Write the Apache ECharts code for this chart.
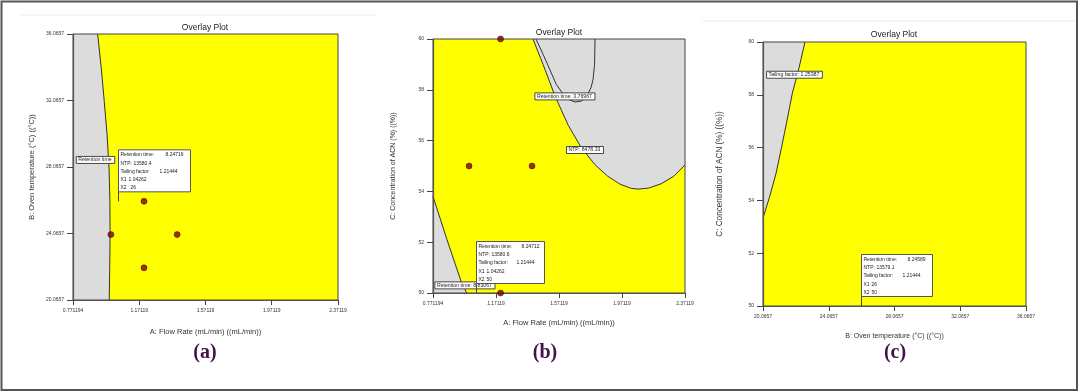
<!DOCTYPE html>
<html><head><meta charset="utf-8">
<script src="https://cdn.jsdelivr.net/npm/echarts@6/dist/echarts.min.js"></script>
<style>html,body{margin:0;padding:0;background:#fff}#c{width:1080px;height:392px}</style>
</head><body><div id="c"></div>
<script>
// ---------- tick values and labels ----------
const flowTicks = [0.771194, 1.171194, 1.571194, 1.971194, 2.371194];
const flowTickLabels = ['0.771194', '1.17119', '1.57119', '1.97119', '2.37119'];
const tempTicks = [20.0657, 24.0657, 28.0657, 32.0657, 36.0657];
const tempTickLabels = ['20.0657', '24.0657', '28.0657', '32.0657', '36.0657'];
const acnTicks = [50, 52, 54, 56, 58, 60];
const acnTickLabels = ['50', '52', '54', '56', '58', '60'];

// ---------- design points ----------
const designA = [[1.0, 24], [1.2, 26], [1.2, 22], [1.4, 24]];
const designB = [[1.2, 60], [1.0, 55], [1.4, 55], [1.2, 50]];

// ---------- boundaries of the gray (failing) regions ----------
const boundaryA = [[0.920, 36.0657], [0.942, 34], [0.960, 32], [0.977, 30], [0.989, 28], [0.994, 26], [0.995, 24], [0.993, 22], [0.990, 20.0657]];
const boundaryB1 = [[1.406, 60], [1.47, 59.0], [1.546, 57.75], [1.63, 56.6], [1.715, 55.7], [1.80, 55.05], [1.88, 54.6], [1.96, 54.28], [2.03, 54.12], [2.073, 54.09], [2.14, 54.13], [2.22, 54.3], [2.30, 54.6], [2.37119, 55.04]];
const contourB1 = [[1.425, 60], [1.47, 59.4], [1.514, 58.78], [1.555, 58.2], [1.59, 57.9], [1.63, 57.62], [1.673, 57.52], [1.715, 57.56], [1.749, 57.76], [1.775, 58.1], [1.787, 58.39], [1.797, 59.0], [1.800, 60]];
const boundaryB2 = [[0.771194, 53.8], [0.86, 52.1], [0.95, 50.45], [0.985, 50]];
const boundaryC = [[22.62, 60], [22.25, 59.0], [21.85, 58.06], [21.52, 57.0], [21.20, 56.03], [20.85, 55.0], [20.45, 54.1], [20.0657, 53.33]];

// ---------- contour labels ----------
const contourLabelsA = [[0.907, 28.49, 'Retention time']];
const contourLabelsB = [[1.609, 57.74, 'Retention time: 3.76967'], [1.736, 55.63, 'NTP: 8478.33'], [0.974, 50.30, 'Retention time: 8.83067']];
const contourLabelsC = [[21.98, 58.76, 'Tailing factor: 1.25387']];

// ---------- flags ----------
const flagNames = ['Retention time:', 'NTP:', 'Tailing factor:', 'X1', 'X2'];
const flagPointA = [1.04262, 26];
const flagValuesA = ['8.24716', '13580.4', '1.21444', '1.04262', '26'];
const flagPointB = [1.04262, 50];
const flagValuesB = ['8.24712', '13580.6', '1.21444', '1.04262', '50'];
const flagPointC = [26, 50];
const flagValuesC = ['8.24589', '13579.1', '1.21444', '26', '50'];

const FONT = 'Liberation Sans, Arial, sans-serif';
const grids = [
  { left: 73, top: 34, width: 265, height: 266 },
  { left: 433, top: 39, width: 252, height: 254 },
  { left: 763, top: 42, width: 263, height: 264 }
];

function nearestLabel(ticks, labels) {
  return function (v) {
    let bi = 0, bd = Infinity;
    ticks.forEach((t, i) => { const d = Math.abs(t - v); if (d < bd) { bd = d; bi = i; } });
    return labels[bi];
  };
}

function mkAxis(g, ticks, labels, name, nameGap, nameSize, isY) {
  return {
    type: 'value', gridIndex: g, min: ticks[0], max: ticks[ticks.length - 1], z: 5,
    name: name, nameLocation: 'middle', nameGap: nameGap,
    nameTextStyle: { fontSize: nameSize, color: '#333', fontFamily: FONT },
    axisLine: { show: true, onZero: false, lineStyle: { color: '#555', width: 1.2 } },
    axisTick: { show: true, length: isY ? 6 : 5, customValues: ticks, lineStyle: { color: '#444', width: 1 } },
    axisLabel: { show: true, customValues: ticks, formatter: nearestLabel(ticks, labels), fontSize: 5, color: '#333', margin: isY ? 9 : 8, fontFamily: FONT },
    splitLine: { show: false }
  };
}

function regionSeries(g, boundary, corners) {
  return {
    type: 'custom', xAxisIndex: g, yAxisIndex: g, z: 2, silent: true, data: boundary,
    renderItem(params, api) {
      if (params.dataIndex !== 0) return;
      const pts = boundary.map(p => api.coord(p));
      const cps = corners.map(p => api.coord(p));
      return { type: 'group', children: [
        { type: 'polygon', shape: { points: pts.concat(cps) }, style: { fill: '#dcdcdc' } },
        { type: 'polyline', shape: { points: pts }, style: { stroke: '#333', lineWidth: 1, fill: null } }
      ] };
    }
  };
}

function contourLineSeries(g, line) {
  return {
    type: 'custom', xAxisIndex: g, yAxisIndex: g, z: 3, silent: true, data: line,
    renderItem(params, api) {
      if (params.dataIndex !== 0) return;
      return { type: 'polyline', shape: { points: line.map(p => api.coord(p)) }, style: { stroke: '#333', lineWidth: 1, fill: null } };
    }
  };
}

function frameSeries(g, pt) {
  return {
    type: 'custom', xAxisIndex: g, yAxisIndex: g, z: 4, silent: true, data: [pt],
    renderItem(params) {
      const c = params.coordSys;
      return { type: 'rect', shape: { x: c.x, y: c.y, width: c.width, height: c.height }, style: { fill: null, stroke: '#444', lineWidth: 1 } };
    }
  };
}

const mctx = document.createElement('canvas').getContext('2d');
function textW(t, size) { mctx.font = size + 'px ' + FONT; return mctx.measureText(t).width; }

function contourLabelSeries(g, items) {
  return {
    type: 'custom', xAxisIndex: g, yAxisIndex: g, z: 6, silent: true, data: items.map(d => [d[0], d[1]]),
    renderItem(params, api) {
      const p = api.coord([api.value(0), api.value(1)]);
      const t = items[params.dataIndex][2];
      const fs = 5.2, w = textW(t, fs) + 5, h = 7;
      return { type: 'group', children: [
        { type: 'rect', shape: { x: p[0] - w / 2, y: p[1] - h / 2, width: w, height: h }, style: { fill: '#fff', stroke: '#333', lineWidth: 0.9 } },
        { type: 'text', style: { x: p[0] - w / 2 + 2, y: p[1], text: t, fontSize: fs, fontFamily: FONT, fill: '#222', verticalAlign: 'middle', align: 'left' } }
      ] };
    }
  };
}

function flagSeries(g, point, values, width, offs) {
  return {
    type: 'custom', xAxisIndex: g, yAxisIndex: g, z: 8, silent: true, data: [point],
    renderItem(params, api) {
      const p = api.coord([api.value(0), api.value(1)]);
      const h = 42, pole = 9.5;
      const x0 = Math.round(p[0]) + 0.5, yb = p[1] - pole, yt = yb - h;
      const ch = [
        { type: 'line', shape: { x1: x0, y1: p[1], x2: x0, y2: yb }, style: { stroke: '#444', lineWidth: 1 } },
        { type: 'rect', shape: { x: x0, y: yt, width: width, height: h }, style: { fill: '#fff', stroke: '#555', lineWidth: 1 } }
      ];
      flagNames.forEach((n, i) => {
        const y = yt + 5.2 + i * 8.2;
        ch.push({ type: 'text', style: { x: x0 + 2, y: y, text: n, fontSize: 5, fontFamily: FONT, fill: '#222', verticalAlign: 'middle' } });
        ch.push({ type: 'text', style: { x: x0 + offs[i], y: y, text: values[i], fontSize: 5, fontFamily: FONT, fill: '#222', verticalAlign: 'middle' } });
      });
      return { type: 'group', children: ch };
    }
  };
}

function pointSeries(g, data) {
  return {
    type: 'scatter', xAxisIndex: g, yAxisIndex: g, z: 7, data: data, symbolSize: 6, silent: true,
    itemStyle: { color: '#7d0000', borderColor: '#3a0000', borderWidth: 0.6 }
  };
}

const flowName = 'A: Flow Rate (mL/min) ((mL/min))';
const tempName = 'B: Oven temperature (°C) ((°C))';
const acnName = 'C: Concentration of ACN (%) ((%))';

const option = {
  animation: false,
  backgroundColor: '#fff',
  grid: grids.map(g => Object.assign({ show: true, backgroundColor: '#ffff00', borderWidth: 0 }, g)),
  xAxis: [
    mkAxis(0, flowTicks, flowTickLabels, flowName, 28, 7.5, false),
    mkAxis(1, flowTicks, flowTickLabels, flowName, 26, 7.5, false),
    mkAxis(2, tempTicks, tempTickLabels, tempName, 27, 7, false)
  ],
  yAxis: [
    mkAxis(0, tempTicks, tempTickLabels, tempName, 37, 7.5, true),
    mkAxis(1, acnTicks, acnTickLabels, acnName, 36, 7, true),
    mkAxis(2, acnTicks, acnTickLabels, acnName, 39, 8.2, true)
  ],
  series: [
    regionSeries(0, boundaryA, [[0.771194, 20.0657], [0.771194, 36.0657]]),
    regionSeries(1, boundaryB1, [[2.371194, 60]]),
    contourLineSeries(1, contourB1),
    regionSeries(1, boundaryB2, [[0.771194, 50]]),
    regionSeries(2, boundaryC, [[20.0657, 60]]),
    frameSeries(0, [0.771194, 20.0657]),
    frameSeries(1, [0.771194, 50]),
    frameSeries(2, [20.0657, 50]),
    contourLabelSeries(0, contourLabelsA),
    contourLabelSeries(1, contourLabelsB),
    contourLabelSeries(2, contourLabelsC),
    pointSeries(0, designA),
    pointSeries(1, designB),
    flagSeries(0, flagPointA, flagValuesA, 72, [47, 15, 41, 10, 12]),
    flagSeries(1, flagPointB, flagValuesB, 68, [45, 15, 40, 10, 10]),
    flagSeries(2, flagPointC, flagValuesC, 71, [46, 15, 41, 10, 10])
  ],
  graphic: [
    { type: 'rect', shape: { x: 1.5, y: 1.5, width: 1075.5, height: 388.5 }, style: { fill: null, stroke: '#555', lineWidth: 2 }, z: 10 },
    { type: 'line', shape: { x1: 20, y1: 15, x2: 377, y2: 15 }, style: { stroke: '#ececec', lineWidth: 1 } },
    { type: 'line', shape: { x1: 702, y1: 21, x2: 1075, y2: 21 }, style: { stroke: '#ececec', lineWidth: 1 } },
    { type: 'text', x: 205, y: 28, style: { text: 'Overlay Plot', fontSize: 8.5, fontFamily: FONT, fill: '#222', align: 'center', verticalAlign: 'middle' } },
    { type: 'text', x: 559, y: 33, style: { text: 'Overlay Plot', fontSize: 8.5, fontFamily: FONT, fill: '#222', align: 'center', verticalAlign: 'middle' } },
    { type: 'text', x: 894, y: 35, style: { text: 'Overlay Plot', fontSize: 8.5, fontFamily: FONT, fill: '#222', align: 'center', verticalAlign: 'middle' } },
    { type: 'text', x: 205, y: 353, style: { text: '(a)', fontSize: 20, fontWeight: 'bold', fontFamily: 'Liberation Serif, serif', fill: '#44104a', align: 'center', verticalAlign: 'middle' } },
    { type: 'text', x: 545, y: 353, style: { text: '(b)', fontSize: 20, fontWeight: 'bold', fontFamily: 'Liberation Serif, serif', fill: '#44104a', align: 'center', verticalAlign: 'middle' } },
    { type: 'text', x: 895, y: 353, style: { text: '(c)', fontSize: 20, fontWeight: 'bold', fontFamily: 'Liberation Serif, serif', fill: '#44104a', align: 'center', verticalAlign: 'middle' } }
  ]
};

const chart = echarts.init(document.getElementById('c'), null, { renderer: 'canvas' });
chart.setOption(option);
</script>
</body></html>
